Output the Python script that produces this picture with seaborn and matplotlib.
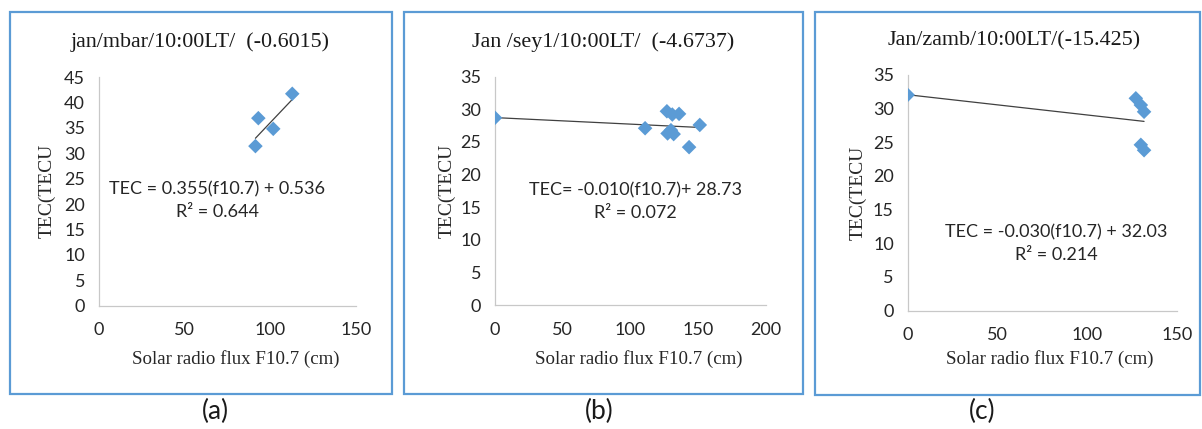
import numpy as np
import pandas as pd
import seaborn as sns
import matplotlib
matplotlib.use("Agg")
import matplotlib.pyplot as plt
from matplotlib.patches import Rectangle

# ---- data -------------------------------------------------------------
mbar_f107 = [91.3, 93.0, 101.7, 112.8]
mbar_tec = [31.4, 36.9, 34.8, 41.7]

sey1_f107 = [0.0, 110.9, 127.0, 131.0, 136.0, 127.5, 130.0, 132.0, 143.4, 151.3]
sey1_tec = [28.7, 27.1, 29.7, 29.2, 29.3, 26.3, 26.8, 26.2, 24.2, 27.6]

zamb_f107 = [0.0, 127.2, 130.0, 131.8, 130.0, 131.8]
zamb_tec = [32.0, 31.5, 30.5, 29.5, 24.6, 23.8]

# trendline coefficients (slope, intercept) and R^2 for each station
fits = [(0.355, 0.536, 0.644), (-0.010, 28.73, 0.072), (-0.030, 32.03, 0.214)]

titles = ["jan/mbar/10:00LT/  (-0.6015)",
          "Jan /sey1/10:00LT/  (-4.6737)",
          "Jan/zamb/10:00LT/(-15.425)"]
eq_labels = ["TEC = 0.355(f10.7) + 0.536",
             "TEC= -0.010(f10.7)+ 28.73",
             "TEC = -0.030(f10.7) + 32.03"]
r2_labels = ["R² = 0.644", "R² = 0.072", "R² = 0.214"]
panel_tags = ["(a)", "(b)", "(c)"]

x_ticks = [[0, 50, 100, 150], [0, 50, 100, 150, 200], [0, 50, 100, 150]]
y_ticks = [list(range(0, 46, 5)), list(range(0, 36, 5)), list(range(0, 36, 5))]

# ---- styling -----------------------------------------------------------
sns.set_style("white")
plt.rcParams["font.family"] = ["Lato", "DejaVu Sans"]

W, H = 1202, 429
fig = plt.figure(figsize=(W / 100, H / 100), dpi=100)

def fx(px):
    return px / W

def fy(py):
    return 1 - py / H

# axes rectangles in pixel coordinates: left, top, right, bottom
ax_px = [(99, 77, 356, 305.7), (495, 76.7, 765.7, 305), (907.7, 74.7, 1176.7, 310.7)]
box_px = [(10, 12, 392, 394), (404, 12, 803, 393.5), (815, 12, 1200, 395)]
title_pos = [(200, 42), (603, 42), (1014, 41)]
ylabel_x = [47, 447, 858]
tag_pos = [(215, 411), (599, 411), (982, 411)]
eq_pos = [(69, 22.8, 18.5), (103.5, 17.6, 14.1), (82.7, 11.6, 8.2)]

blue = "#5B9BD5"
serif = ["Liberation Serif", "DejaVu Serif"]

datasets = [(mbar_f107, mbar_tec), (sey1_f107, sey1_tec), (zamb_f107, zamb_tec)]

for i, (xs, ys) in enumerate(datasets):
    l, t, r, b = ax_px[i]
    ax = fig.add_axes([fx(l), fy(b), fx(r - l), (b - t) / H])
    df = pd.DataFrame({"f107": xs, "tec": ys})
    sns.scatterplot(data=df, x="f107", y="tec", ax=ax, marker="D", s=55,
                    color=blue, edgecolor="none", linewidth=0, zorder=3)

    slope, intercept, _ = fits[i]
    xl = np.array([min(xs), max(xs)])
    trend = pd.DataFrame({"f107": xl, "tec": slope * xl + intercept})
    sns.lineplot(data=trend, x="f107", y="tec", ax=ax, color="#404040",
                 linewidth=0.9, zorder=2)

    ax.set_xlim(x_ticks[i][0], x_ticks[i][-1])
    ax.set_ylim(y_ticks[i][0], y_ticks[i][-1])
    ax.set_xticks(x_ticks[i])
    ax.set_yticks(y_ticks[i])
    ax.tick_params(axis="both", length=0, labelsize=13, colors="#262626")
    ax.tick_params(axis="x", pad=12)
    ax.tick_params(axis="y", pad=10)
    for side in ("top", "right"):
        ax.spines[side].set_visible(False)
    for side in ("left", "bottom"):
        ax.spines[side].set_color("#C8C8C8")
        ax.spines[side].set_linewidth(0.9)
    ax.set_xlabel("")
    ax.set_ylabel("")

    ex, ey1, ey2 = eq_pos[i]
    ax.text(ex, ey1, eq_labels[i], ha="center", va="center", fontsize=13,
            color="#262626")
    ax.text(ex, ey2, r2_labels[i], ha="center", va="center", fontsize=13,
            color="#262626")

    # axis labels and title
    cx = (l + r) / 2
    fig.text(fx(cx + 8), fy(359), "Solar radio flux F10.7 (cm)", ha="center",
             va="center", fontsize=13.6, family=serif, color="#262626")
    fig.text(fx(ylabel_x[i]), fy((t + b) / 2), "TEC(TECU", ha="center",
             va="center", rotation=90, fontsize=14, family=serif,
             color="#262626")
    tx, ty = title_pos[i]
    fig.text(fx(tx), fy(ty), titles[i], ha="center", va="center",
             fontsize=15.8, family=serif, color="#1a1a1a")

    # panel frame and tag
    bl, bt, br, bb = box_px[i]
    fig.patches.append(Rectangle((fx(bl), fy(bb)), fx(br - bl), (bb - bt) / H,
                                 transform=fig.transFigure, fill=False,
                                 edgecolor=blue, linewidth=1.6))
    gx, gy = tag_pos[i]
    fig.text(fx(gx), fy(gy), panel_tags[i], ha="center", va="center",
             fontsize=19, color="#1a1a1a")

fig.savefig("out.png", dpi=100)
